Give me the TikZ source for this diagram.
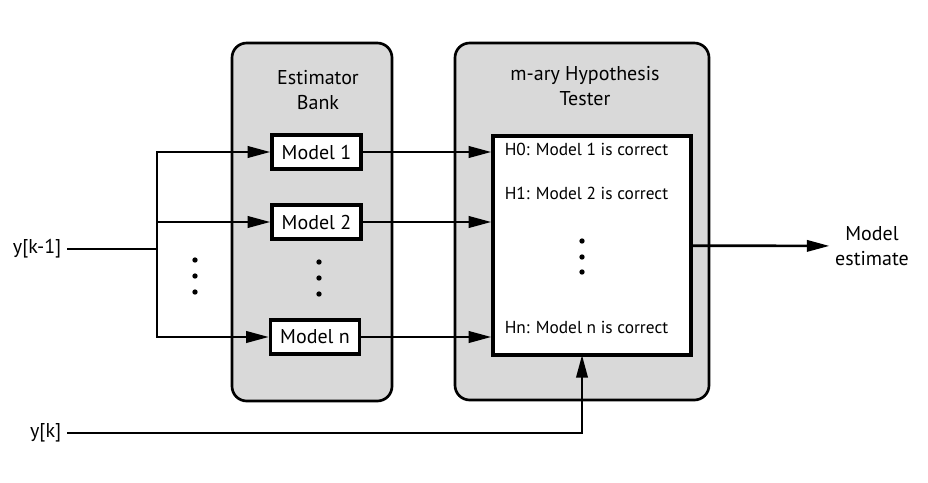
\documentclass[tikz,border=0pt]{standalone}
\usepackage{fontspec}
\setmainfont{PT Sans}
\usetikzlibrary{arrows.meta}
\begin{document}
\begin{tikzpicture}[x=0.75pt,y=-0.75pt,
        font=\fontsize{15}{18.5}\selectfont,
        line width=2pt,
        panel/.style={draw, fill=black!15, rounded corners=11pt},
        modelbox/.style={draw, line width=2.4pt, fill=white, minimum width=66.75pt, minimum height=25.5pt, inner sep=0pt},
        hypo/.style={anchor=west, font=\fontsize{13}{16}\selectfont},
        sig/.style={-{Triangle[length=17pt,width=8.5pt]}},
        dot/.style={circle, fill, inner sep=0pt, minimum size=4pt}]
        \useasboundingbox (0,0) rectangle (928,482);

        \node[panel, minimum width=120pt, minimum height=268.5pt] (bank) at (312,222) {};
        \node[panel, minimum width=190.5pt, minimum height=267.75pt] (tester) at (582,221.5) {};
        \node[align=center] (banktitle) at (318,90) {Estimator\\Bank};
        \node[align=center] (testertitle) at (585,86) {m-ary Hypothesis\\Tester};

        \node[modelbox] (m1) at (316.5,152) {Model 1};
        \node[modelbox] (m2) at (316.5,222) {Model 2};
        \node[modelbox] (mn) at (315,337) {Model n};
        \node[draw, line width=2.4pt, fill=white, minimum width=148.5pt, minimum height=164.25pt] (hyp) at (592,245.5) {};

        \node[hypo] (h0) at (499,149) {H0: Model 1 is correct};
        \node[hypo] (h1) at (499,193) {H1: Model 2 is correct};
        \node[hypo] (hn) at (499,327) {Hn: Model n is correct};

        \node[anchor=east] (yk1) at (67,249) {y[k-1]};
        \node[anchor=east] (yk) at (67,433) {y[k]};
        \node[align=center] (est) at (872,246) {Model\\estimate};

        \coordinate (split) at (157,249);
        \coordinate (tin) at (582,355);

        % dots
        \foreach \y in {260,276,292} \node[dot] (a\y) at (195,\y) {};
        \foreach \y in {262,278,294} \node[dot] (b\y) at (319,\y) {};
        \foreach \y in {241,257,272} \node[dot] (c\y) at (582,\y) {};

        \draw (yk1) -- (split);
        \draw[sig] (split) |- (m1);
        \draw[sig] (split) |- (m2);
        \draw[sig] (split) |- (mn);

        \draw[sig] (m1) -- (m1 -| hyp.west);
        \draw[sig] (m2) -- (m2 -| hyp.west);
        \draw[sig] (mn) -- (mn -| hyp.west);

        \draw[sig] (hyp) -- (est);
        \draw[sig] (yk) -| (tin);
\end{tikzpicture}
\end{document}
